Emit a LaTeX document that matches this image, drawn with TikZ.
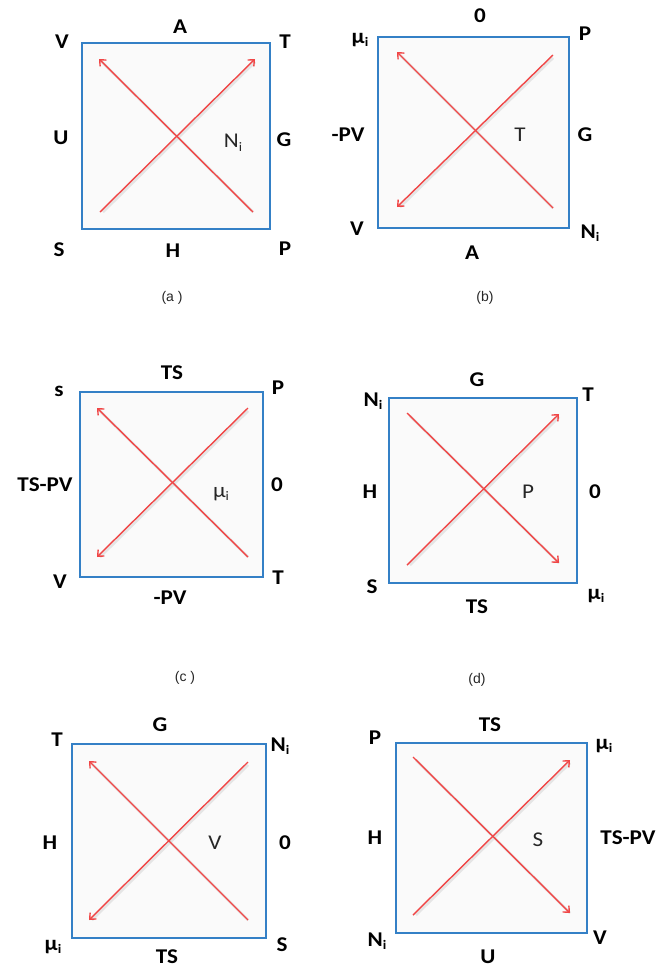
\documentclass[tikz,border=0pt]{standalone}
\usepackage{fontspec}
\setmainfont{Carlito}
\newfontfamily\labfont[FakeStretch=1.1]{Carlito}
\newfontfamily\capfont{Liberation Sans}
\usetikzlibrary{arrows.meta}
\definecolor{boxblue}{RGB}{52,128,198}
\definecolor{arrred}{RGB}{240,70,70}
\newcommand{\sbi}{\raisebox{-0.35ex}{\fontsize{13}{13}\selectfont i}}
\tikzset{
  panelbox/.style={draw=boxblue, line width=2.6pt, fill=black!2},
  lab/.style={font=\labfont\bfseries\fontsize{21}{21}\selectfont, inner sep=0pt},
  inlab/.style={font=\labfont\fontsize{21}{21}\selectfont, inner sep=0pt, text=black!85},
  captext/.style={font=\capfont\fontsize{14}{14}\selectfont, inner sep=0pt, text=black!85},
  arr/.style={draw=arrred, line width=1.4pt, -{Straight Barb[length=5pt,width=9pt]}},
  shadow/.style={draw=black!25, line width=2.6pt, opacity=0.35, shorten >=2pt, shorten <=2pt}
}
\begin{document}
\begin{tikzpicture}[x=1pt,y=-1pt]
\useasboundingbox (0,0) rectangle (663,975);
% ---------- (a)
\draw[panelbox] (82,43) rectangle (270,229);
\node[lab] (aV) at (62,42) {V};
\node[lab] (aA) at (180,27) {A};
\node[lab] (aT) at (285,42) {T};
\node[lab] (aU) at (61,138) {U};
\node[lab] (aG) at (284,140) {G};
\node[lab] (aS) at (59,250) {S};
\node[lab] (aH) at (173,251) {H};
\node[lab] (aP) at (285,249) {P};
\node[inlab] (aN) at (233,143) {N\sbi};
\node[captext] (acap) at (172,298) {(a )};
\coordinate (a1s) at (253,212); \coordinate (a1e) at (99,59);
\coordinate (a2s) at (100,212); \coordinate (a2e) at (255,59);
\draw[shadow] ([shift={(1.5,1.5)}]a1s) -- ([shift={(1.5,1.5)}]a1e);
\draw[shadow] ([shift={(1.5,1.5)}]a2s) -- ([shift={(1.5,1.5)}]a2e);
\draw[arr] (a1s) -- (a1e);
\draw[arr] (a2s) -- (a2e);
% ---------- (b)
\draw[panelbox] (378,37) rectangle (569,228);
\node[lab] (bmu) at (360,40) {μ\sbi};
\node[lab] (b0) at (480,16) {0};
\node[lab] (bP) at (585,34) {P};
\node[lab] (bPV) at (348,135) {-PV};
\node[lab] (bG) at (585,135) {G};
\node[inlab] (bT) at (520,135) {T};
\node[lab] (bV) at (357,229) {V};
\node[lab] (bA) at (472,253) {A};
\node[lab] (bN) at (590,233) {N\sbi};
\node[captext] (bcap) at (485,298) {(b)};
\coordinate (b1s) at (553,208); \coordinate (b1e) at (397,52);
\coordinate (b2s) at (553,55); \coordinate (b2e) at (397,207);
\draw[shadow] ([shift={(1.5,1.5)}]b1s) -- ([shift={(1.5,1.5)}]b1e);
\draw[shadow] ([shift={(1.5,1.5)}]b2s) -- ([shift={(1.5,1.5)}]b2e);
\draw[arr] (b1s) -- (b1e);
\draw[arr] (b2s) -- (b2e);
% ---------- (c)
\draw[panelbox] (80,392) rectangle (263,577);
\node[lab] (cs) at (59,391) {s};
\node[lab] (cTS) at (172,373) {TS};
\node[lab] (cP) at (278,388) {P};
\node[lab] (cTSPV) at (45,485) {TS-PV};
\node[lab] (c0) at (277,485) {0};
\node[inlab] (cmu) at (221,494) {μ\sbi};
\node[lab] (cV) at (60,582) {V};
\node[lab] (cT) at (278,578) {T};
\node[lab] (cPV) at (170,598) {-PV};
\node[captext] (ccap) at (185,678) {(c )};
\coordinate (c1s) at (248,557); \coordinate (c1e) at (97,408);
\coordinate (c2s) at (248,408); \coordinate (c2e) at (97,557);
\draw[shadow] ([shift={(1.5,1.5)}]c1s) -- ([shift={(1.5,1.5)}]c1e);
\draw[shadow] ([shift={(1.5,1.5)}]c2s) -- ([shift={(1.5,1.5)}]c2e);
\draw[arr] (c1s) -- (c1e);
\draw[arr] (c2s) -- (c2e);
% ---------- (d)
\draw[panelbox] (389,398) rectangle (577,583);
\node[lab] (dN) at (373,401) {N\sbi};
\node[lab] (dG) at (477,380) {G};
\node[lab] (dT) at (588,395) {T};
\node[lab] (dH) at (370,492) {H};
\node[lab] (d0) at (595,492) {0};
\node[inlab] (dP) at (528,492) {P};
\node[lab] (dS) at (372,587) {S};
\node[lab] (dTS) at (477,607) {TS};
\node[lab] (dmu) at (596,596) {μ\sbi};
\node[captext] (dcap) at (477,680) {(d)};
\coordinate (d1s) at (407,413); \coordinate (d1e) at (559,563);
\coordinate (d2s) at (407,565); \coordinate (d2e) at (559,414);
\draw[shadow] ([shift={(1.5,1.5)}]d1s) -- ([shift={(1.5,1.5)}]d1e);
\draw[shadow] ([shift={(1.5,1.5)}]d2s) -- ([shift={(1.5,1.5)}]d2e);
\draw[arr] (d1s) -- (d1e);
\draw[arr] (d2s) -- (d2e);
% ---------- (e)
\draw[panelbox] (72,744) rectangle (266,938);
\node[lab] (eT) at (57,740) {T};
\node[lab] (eG) at (160,725) {G};
\node[lab] (eN) at (280,746) {N\sbi};
\node[lab] (eH) at (50,843) {H};
\node[lab] (e0) at (285,843) {0};
\node[inlab] (eV) at (215,843) {V};
\node[lab] (emu) at (53,947) {μ\sbi};
\node[lab] (eTS) at (167,957) {TS};
\node[lab] (eS) at (282,945) {S};
\coordinate (e1s) at (248,920); \coordinate (e1e) at (89,761);
\coordinate (e2s) at (248,762); \coordinate (e2e) at (89,920);
\draw[shadow] ([shift={(1.5,1.5)}]e1s) -- ([shift={(1.5,1.5)}]e1e);
\draw[shadow] ([shift={(1.5,1.5)}]e2s) -- ([shift={(1.5,1.5)}]e2e);
\draw[arr] (e1s) -- (e1e);
\draw[arr] (e2s) -- (e2e);
% ---------- (f)
\draw[panelbox] (396,743) rectangle (587,933);
\node[lab] (fP) at (375,738) {P};
\node[lab] (fTS) at (490,725) {TS};
\node[lab] (fmu) at (604,746) {μ\sbi};
\node[lab] (fH) at (375,838) {H};
\node[lab] (fTSPV) at (628,838) {TS-PV};
\node[inlab] (fS) at (538,840) {S};
\node[lab] (fN) at (377,941) {N\sbi};
\node[lab] (fU) at (488,957) {U};
\node[lab] (fV) at (600,938) {V};
\coordinate (f1s) at (413,757); \coordinate (f1e) at (570,913);
\coordinate (f2s) at (413,915); \coordinate (f2e) at (570,760);
\draw[shadow] ([shift={(1.5,1.5)}]f1s) -- ([shift={(1.5,1.5)}]f1e);
\draw[shadow] ([shift={(1.5,1.5)}]f2s) -- ([shift={(1.5,1.5)}]f2e);
\draw[arr] (f1s) -- (f1e);
\draw[arr] (f2s) -- (f2e);
\end{tikzpicture}
\end{document}
